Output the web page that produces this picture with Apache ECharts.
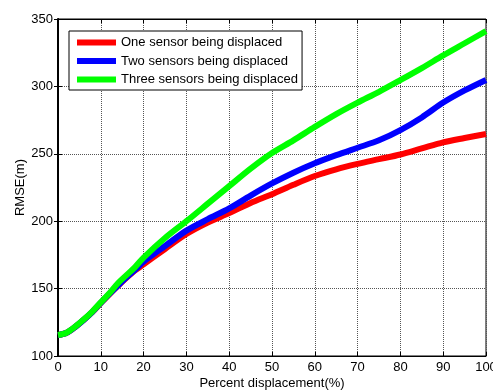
<!DOCTYPE html>
<html>
<head>
    <meta charset="utf-8">
    <title>RMSE</title>
    <script src="https://cdn.jsdelivr.net/npm/echarts@6/dist/echarts.min.js"></script>
    <style>
        html, body { margin: 0; padding: 0; background: #fff; }
    </style>
</head>
<body>
<div id="main" style="width: 493px;height:390px;"></div>
<script type="text/javascript">
    // percent displacement (x) and RMSE
    var percent = [0, 2, 4, 6, 8, 10, 12, 14, 16, 18, 20, 25, 30, 35, 40, 45, 50, 55, 60, 65, 70, 75, 80, 85, 90, 95, 100];
    var oneSensor = [115.5, 117.2, 121.5, 126.8, 132.5, 139.3, 145.8, 152, 158, 163.5, 168, 179.4, 190.5, 199, 206, 213.5, 220, 227, 233.5, 238.5, 242.5, 246, 249.5, 254, 258.5, 261.7, 264.7];
    var twoSensors = [115.5, 117.2, 121.5, 126.8, 132.6, 139.4, 146, 152.3, 158.3, 164, 170, 181.6, 193, 201.5, 209.5, 219, 228, 236, 243, 249, 254.5, 260, 267.6, 277, 288, 297, 304.8];
    var threeSensors = [115.6, 117.3, 121.7, 127, 133, 139.8, 146.5, 154, 160, 166, 173, 187.5, 200, 213, 226, 239, 250.6, 260, 270, 279.5, 288, 296, 304.7, 313.6, 323, 332, 341];
    var seriesNames = ['One sensor being displaced', 'Two sensors being displaced', 'Three sensors being displaced'];
    var colors = ['#ff0000', '#0000ff', '#00ff00'];

    function pairs(ys) {
        return percent.map(function (x, i) { return [x, ys[i]]; });
    }

    var myChart = echarts.init(document.getElementById('main'));
    var font = 'Liberation Sans, Arial, sans-serif';

    var frameAxis = {
        axisLine: { show: true, lineStyle: { color: '#000', width: 1 } },
        axisTick: { show: true, inside: true, length: 4, lineStyle: { color: '#000' } },
        axisLabel: { show: false },
        splitLine: { show: false }
    };

    var option = {
        animation: false,
        grid: {
            left: 58, right: 7, top: 19, bottom: 34,
            outerBoundsMode: 'none', containLabel: false,
            show: true, borderColor: '#000', borderWidth: 1
        },
        color: colors,
        legend: {
            orient: 'vertical',
            left: 69,
            top: 31,
            data: seriesNames,
            icon: 'rect',
            itemWidth: 39,
            itemHeight: 6,
            itemGap: 3.5,
            padding: [4, 4, 3, 8],
            backgroundColor: '#fff',
            borderColor: '#000',
            borderWidth: 1,
            borderRadius: 0,
            textStyle: { fontFamily: font, fontSize: 13, color: '#000', lineHeight: 15 }
        },
        xAxis: [{
            type: 'value', min: 0, max: 100, interval: 10,
            name: 'Percent displacement(%)', nameLocation: 'middle', nameGap: 21, nameMoveOverlap: false,
            nameTextStyle: { fontFamily: font, fontSize: 13, color: '#000' },
            axisLine: { show: true, lineStyle: { color: '#000', width: 1 } },
            axisTick: { show: true, inside: true, length: 4, lineStyle: { color: '#000' } },
            axisLabel: { fontFamily: font, fontSize: 13, color: '#000', margin: 5 },
            splitLine: { show: true, lineStyle: { color: '#555', type: [1, 1], width: 1 } }
        }, Object.assign({ type: 'value', min: 0, max: 100, interval: 10, position: 'top' }, frameAxis)],
        yAxis: [{
            type: 'value', min: 100, max: 350, interval: 50,
            name: 'RMSE(m)', nameLocation: 'middle', nameGap: 31, nameMoveOverlap: false,
            nameTextStyle: { fontFamily: font, fontSize: 13, color: '#000' },
            axisLine: { show: true, lineStyle: { color: '#000', width: 1 } },
            axisTick: { show: true, inside: true, length: 4, lineStyle: { color: '#000' } },
            axisLabel: { fontFamily: font, fontSize: 13, color: '#000', margin: 5 },
            splitLine: { show: true, lineStyle: { color: '#555', type: [1, 1], width: 1 } }
        }, Object.assign({ type: 'value', min: 100, max: 350, interval: 50, position: 'right' }, frameAxis, {
            axisLine: { show: true, lineStyle: { color: '#000', width: 2 } }
        })],
        series: [
            { name: seriesNames[0], type: 'line', data: pairs(oneSensor), showSymbol: false, smooth: 0.3, lineStyle: { width: 6 }, z: 2 },
            { name: seriesNames[1], type: 'line', data: pairs(twoSensors), showSymbol: false, smooth: 0.3, lineStyle: { width: 6 }, z: 3 },
            { name: seriesNames[2], type: 'line', data: pairs(threeSensors), showSymbol: false, smooth: 0.3, lineStyle: { width: 6 }, z: 4 }
        ]
    };
    myChart.setOption(option);
</script>
</body>
</html>
